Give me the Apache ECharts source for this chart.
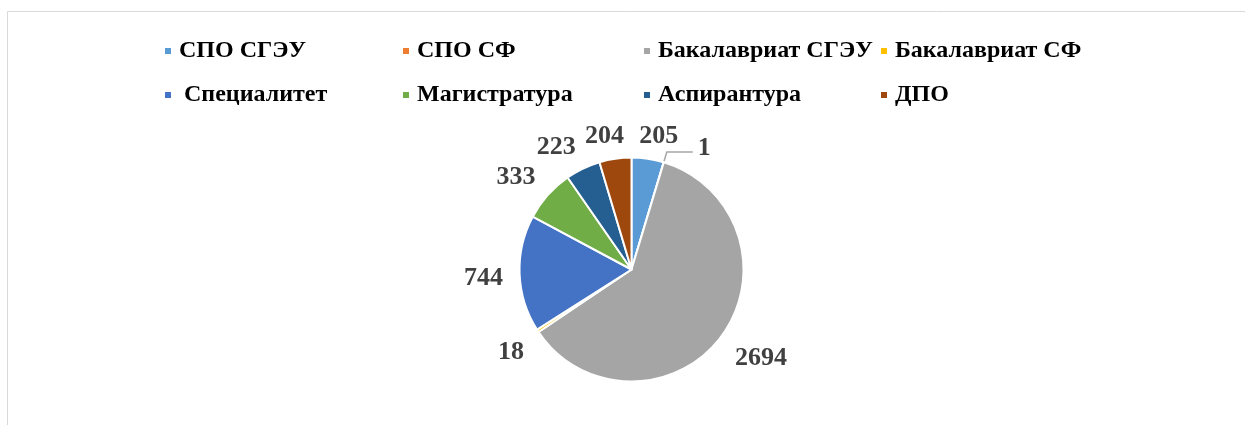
<!DOCTYPE html>
<html>
<head>
<meta charset="utf-8">
<script src="https://cdn.jsdelivr.net/npm/echarts@6/dist/echarts.min.js"></script>
<style>
html,body{margin:0;padding:0;background:#fff;}
#chart{width:1245px;height:425px;}
</style>
</head>
<body>
<div id="chart"></div>
<script>
const categories = ['СПО СГЭУ', 'СПО СФ', 'Бакалавриат СГЭУ', 'Бакалавриат СФ', 'Специалитет', 'Магистратура', 'Аспирантура', 'ДПО'];
const values = [205, 1, 2694, 18, 744, 333, 223, 204];
const colors = ['#5B9BD5', '#ED7D31', '#A5A5A5', '#FFC000', '#4472C4', '#70AD47', '#255E91', '#9E480E'];

const FONT = "'Liberation Serif', 'Times New Roman', serif";
const PIE_C = [631.5, 269.5];
const PIE_R = 112;
const chart = echarts.init(document.getElementById('chart'), null, {renderer: 'canvas'});

const legendLeft = [163, 401, 642, 879];
const legendTop = [39, 83];

const legends = categories.map((name, i) => ({
  left: legendLeft[i % 4],
  top: legendTop[Math.floor(i / 4)],
  padding: 0,
  itemWidth: 8,
  itemHeight: 8,
  icon: 'rect',
  selectedMode: false,
  data: [{name: name, itemStyle: {color: colors[i]}}],
  textStyle: {
    fontFamily: FONT, fontWeight: 'bold', fontSize: 24, color: '#000',
    padding: [0, 0, 0, name === 'Специалитет' ? 7 : 2]
  }
}));

const mainData = categories.map((name, i) => {
  const d = {name: name, value: values[i], itemStyle: {color: colors[i]}};
  if (values[i] === 1) {
    d.label = {show: true, position: 'outside'};
    d.labelLine = {show: true, length: 10.6, length2: 26, lineStyle: {color: '#A6A6A6', width: 1.5}};
  }
  return d;
});

const labelData = categories.map((name, i) => ({
  name: name, value: values[i],
  label: {show: values[i] !== 1}
}));

const labelFont = {fontFamily: FONT, fontWeight: 'bold', fontSize: 26, color: '#404040', formatter: '{c}'};

// Place each label just outside the pie, along its slice's mid-angle
// (direction taken from the library's own inside-label layout).
function placeLabel(p) {
  const r = p.labelRect;
  const lx = r.x + r.width / 2, ly = r.y + r.height / 2;
  let ux = lx - PIE_C[0], uy = ly - PIE_C[1];
  const len = Math.hypot(ux, uy) || 1;
  ux /= len; uy /= len;
  const D = PIE_R + 16.5;
  const fx = Math.min(1, Math.abs(ux) * 3), fy = Math.min(1, Math.abs(uy) * 3);
  return {
    x: PIE_C[0] + ux * D + Math.sign(ux) * fx * r.width / 2,
    y: PIE_C[1] + uy * D + Math.sign(uy) * fy * 9.5 + 3,
    align: 'center', verticalAlign: 'middle'
  };
}

chart.setOption({
  animation: false,
  backgroundColor: '#fff',
  graphic: [{
    type: 'rect', silent: true,
    shape: {x: 7.5, y: 11.5, width: 1400, height: 600},
    style: {fill: 'none', stroke: '#D9D9D9', lineWidth: 1}
  }],
  legend: legends,
  series: [{
    type: 'pie',
    center: PIE_C,
    radius: PIE_R,
    startAngle: 90,
    clockwise: true,
    avoidLabelOverlap: false,
    itemStyle: {borderColor: '#fff', borderWidth: 2},
    label: Object.assign({show: false}, labelFont),
    labelLine: {show: false},
    labelLayout: {hideOverlap: false, dy: -4},
    emphasis: {disabled: true},
    data: mainData
  }, {
    type: 'pie',
    center: PIE_C,
    radius: [131, 159],
    startAngle: 90,
    clockwise: true,
    silent: true,
    legendHoverLink: false,
    avoidLabelOverlap: false,
    itemStyle: {color: 'rgba(0,0,0,0)', borderWidth: 0},
    label: Object.assign({show: true, position: 'inside'}, labelFont),
    labelLine: {show: false},
    labelLayout: placeLabel,
    emphasis: {disabled: true},
    data: labelData
  }]
});
</script>
</body>
</html>
